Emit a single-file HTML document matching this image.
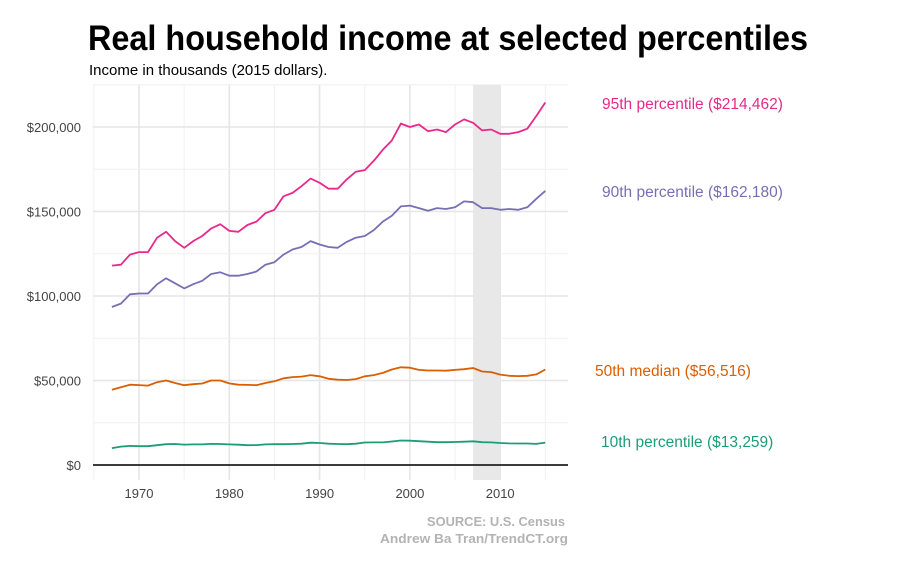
<!DOCTYPE html>
<html><head><meta charset="utf-8"><style>
body{margin:0;background:#fff;}
svg text{font-family:"Liberation Sans",sans-serif;}
</style></head><body>
<svg width="910" height="569" viewBox="0 0 910 569">
<text x="88" y="50" font-size="35" font-weight="bold" fill="#000" textLength="720" lengthAdjust="spacingAndGlyphs">Real household income at selected percentiles</text>
<text x="89" y="75" font-size="15" fill="#000">Income in thousands (2015 dollars).</text>
<g id="grid"></g>
<rect id="recession" fill="#e8e8e8"/>
<g id="axes"></g>
<g id="lines"></g>
<g id="labels"></g>
<text x="427" y="526" font-size="13" font-weight="bold" fill="#b3b3b3" textLength="138" lengthAdjust="spacingAndGlyphs">SOURCE: U.S. Census</text>
<text x="380" y="543" font-size="13" font-weight="bold" fill="#b3b3b3" textLength="188" lengthAdjust="spacingAndGlyphs">Andrew Ba Tran/TrendCT.org</text>
</svg>
<script>
const years=[];for(let y=1967;y<=2015;y++)years.push(y);
const p95=[118,118.5,124.5,126,126,134.5,138,132.5,128.5,132.5,135.5,140,142.5,138.5,138,142,144,149,151,159,161,165,169.5,167,163.5,163.5,169,173.5,174.5,180,186.5,192,202,200,201.5,197.5,198.5,197,201.5,204.5,202.5,198,198.5,196,196,197,199,206.5,214.5];
const p90=[93.5,95.5,101,101.5,101.5,107,110.5,107.5,104.5,107,109,113,114,112,112,113,114.5,118.5,120,124.5,127.5,129,132.5,130.5,129,128.5,132,134.5,135.5,139,144,147.5,153,153.5,152,150.5,152,151.5,152.5,156,155.5,152,152,151,151.5,151,152.5,157.5,162.2];
const p50=[44.5,46,47.5,47.3,47,49,50,48.5,47.2,47.8,48.2,50,50,48.3,47.5,47.4,47.2,48.5,49.5,51.3,52,52.3,53.2,52.5,51,50.5,50.3,50.8,52.5,53.2,54.5,56.5,57.8,57.6,56.3,55.9,55.9,55.8,56.3,56.7,57.4,55.3,55,53.5,52.8,52.6,52.8,53.6,56.5];
const p10=[10,10.9,11.3,11.1,11.1,11.7,12.3,12.4,12.1,12.2,12.2,12.5,12.4,12.2,12,11.7,11.8,12.2,12.3,12.3,12.4,12.6,13.2,13,12.6,12.4,12.3,12.6,13.3,13.4,13.4,13.9,14.5,14.4,14.1,13.8,13.5,13.5,13.6,13.8,14,13.5,13.4,13,12.8,12.7,12.7,12.5,13.26];
const seriesNames=["95th percentile ($214,462)","90th percentile ($162,180)","50th median ($56,516)","10th percentile ($13,259)"];
const xTicks=[1970,1980,1990,2000,2010];
const yTicks=[0,50,100,150,200];
const yTickLabels=["$0","$50,000","$100,000","$150,000","$200,000"];
const recessionYears=[2007,2010];

const NS="http://www.w3.org/2000/svg";
const L=93,R=568,T=85,B=480;
const x=y=>139+(y-1970)*9.03;
const yS=v=>465-v*1.69;
function mk(tag,at,parent){const e=document.createElementNS(NS,tag);for(const k in at)e.setAttribute(k,at[k]);document.getElementById(parent).appendChild(e);return e;}
for(let yr=1965;yr<=2015;yr+=5){const major=yr%10===0;
 const g=mk('line',{x1:x(yr),x2:x(yr),y1:T,y2:B,stroke:major?'#e6e6e6':'#f0f0f0','stroke-width':major?1.6:1},'grid');
 
 }
for(let v=0;v<=225;v+=25){const major=v%50===0;
 const g=mk('line',{x1:L,x2:R,y1:yS(v),y2:yS(v),stroke:major?'#e6e6e6':'#f0f0f0','stroke-width':major?1.6:1},'grid');
 
 }
const rc=document.getElementById('recession');
rc.setAttribute('x',x(recessionYears[0]));rc.setAttribute('width',x(recessionYears[1])-x(recessionYears[0]));
rc.setAttribute('y',T);rc.setAttribute('height',B-T);
const zl=mk('line',{x1:L,x2:R,y1:yS(0),y2:yS(0),stroke:'#000','stroke-width':1.5},'axes');


xTicks.forEach(t=>{const e=mk('text',{x:x(t),y:498,'font-size':13,fill:'#444','text-anchor':'middle'},'axes');e.textContent=t;
 
 });
yTicks.forEach((t,i)=>{const e=mk('text',{x:81,y:yS(t)+5,'font-size':13,fill:'#444','text-anchor':'end'},'axes');e.textContent=yTickLabels[i];
 
 });
const data=[p95,p90,p50,p10];
const colors=['#e7298a','#7570b3','#d95f02','#1b9e77'];
const lineNames=['line-95th','line-90th','line-median','line-10th'];
const labelPos=[[602,109],[602,197],[595,376],[601,447]];
data.forEach((d,i)=>{
 const pts=d.map((v,j)=>x(years[j]).toFixed(1)+','+yS(v).toFixed(1)).join(' ');
 const p=mk('polyline',{points:pts,fill:'none',stroke:colors[i],'stroke-width':1.8,'stroke-linejoin':'round'},'lines');
 
 
 const t=mk('text',{x:labelPos[i][0],y:labelPos[i][1],'font-size':15.5,fill:colors[i]},'labels');t.textContent=seriesNames[i];
 
 
});
</script>
</body></html>
